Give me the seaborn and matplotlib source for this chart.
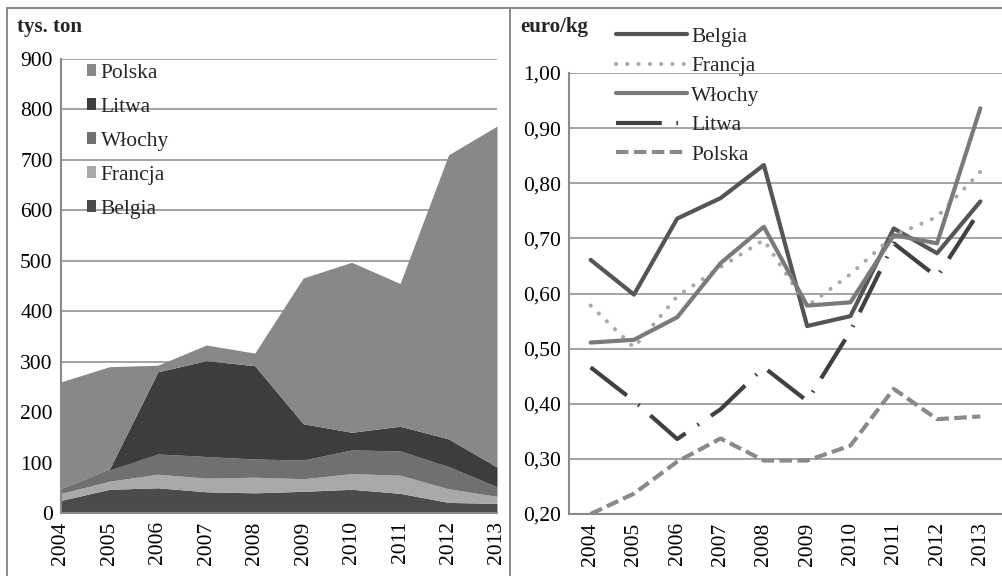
import numpy as np
import pandas as pd
import matplotlib
matplotlib.use("Agg")
import matplotlib.pyplot as plt
import seaborn as sns
from matplotlib.patches import Patch
from matplotlib.lines import Line2D

years = [2004, 2005, 2006, 2007, 2008, 2009, 2010, 2011, 2012, 2013]

# left: quantities (tys. ton)
q_belgia = [25, 47, 50, 42, 40, 43, 47, 39, 21, 19]
q_francja = [14, 16, 27, 27, 31, 25, 31, 36, 27, 14]
q_wlochy = [10, 22, 40, 43, 36, 37, 47, 48, 44, 19]
q_litwa = [0, 2, 163, 190, 185, 72, 35, 49, 55, 39]
q_polska = [211, 203, 13, 31, 25, 289, 337, 283, 563, 676]

# right: prices (euro/kg)
p_belgia = [0.661, 0.598, 0.736, 0.773, 0.833, 0.541, 0.559, 0.718, 0.673, 0.767]
p_francja = [0.578, 0.502, 0.595, 0.648, 0.697, 0.577, 0.635, 0.705, 0.739, 0.821]
p_wlochy = [0.511, 0.516, 0.557, 0.655, 0.721, 0.578, 0.584, 0.706, 0.691, 0.936]
p_litwa = [0.466, 0.405, 0.336, 0.390, 0.466, 0.405, 0.532, 0.691, 0.630, 0.752]
p_polska = [0.200, 0.237, 0.295, 0.337, 0.297, 0.297, 0.324, 0.427, 0.372, 0.377]

left_yticks = [0, 100, 200, 300, 400, 500, 600, 700, 800, 900]
right_yticks = [0.20, 0.30, 0.40, 0.50, 0.60, 0.70, 0.80, 0.90, 1.00]

sns.set_theme(style="white")
plt.rcParams['font.family'] = ['Liberation Serif', 'DejaVu Serif']

W, H = 1002, 576
fig = plt.figure(figsize=(W / 100, H / 100), dpi=100)

def fx(px):
    return px / W

def fy(py):
    return 1 - py / H

grid_c = "#8a8a8a"
fs = 15.5

# ---------- left panel ----------
axL = fig.add_axes([fx(61), fy(513), fx(497) - fx(61), fy(59) - fy(513)])
col_area = {"Belgia": "#4b4b4b", "Francja": "#a9a9a9", "Włochy": "#707070",
            "Litwa": "#3d3d3d", "Polska": "#888888"}
names = ["Belgia", "Francja", "Włochy", "Litwa", "Polska"]
series = [q_belgia, q_francja, q_wlochy, q_litwa, q_polska]
axL.stackplot(np.arange(len(years)), *series, colors=[col_area[n] for n in names],
              linewidth=0, zorder=2)
axL.set_xlim(0, len(years) - 1)
axL.set_ylim(0, 900)
axL.set_yticks(left_yticks)
axL.set_yticklabels([str(v) for v in left_yticks], fontsize=fs)
axL.set_xticks(np.arange(len(years)))
axL.set_xticklabels([str(y) for y in years], rotation=90, fontsize=fs)
axL.grid(axis="y", color=grid_c, linewidth=1.1, zorder=0)
axL.set_axisbelow(True)
for s in ["top", "right"]:
    axL.spines[s].set_visible(False)
for s in ["left", "bottom"]:
    axL.spines[s].set_color(grid_c)
    axL.spines[s].set_linewidth(1.5)
axL.tick_params(axis="both", length=0, pad=6, colors="black")
handlesL = [Patch(facecolor=col_area[n], edgecolor="none", label=n) for n in names[::-1]]
legL = fig.legend(handles=handlesL, loc="upper left", bbox_to_anchor=(fx(78), fy(55)),
                  frameon=False, fontsize=fs, handlelength=0.45, handleheight=0.45,
                  handletextpad=0.2, labelspacing=0.70, borderaxespad=0)
fig.text(fx(17), fy(27), "tys. ton", fontsize=15, fontweight="bold", va="center", ha="left")

# ---------- right panel ----------
axR = fig.add_axes([fx(569), fy(514), fx(1002) - fx(569), fy(73) - fy(514)])
xpos = np.arange(len(years))
styles = [
    ("Belgia", p_belgia, "#555555", dict()),
    ("Francja", p_francja, "#a8a8a8", dict(dashes=(0.01, 2.7), dash_capstyle="round")),
    ("Włochy", p_wlochy, "#7a7a7a", dict()),
    ("Litwa", p_litwa, "#404040", dict(dashes=(11, 3.5, 0.4, 3.5))),
    ("Polska", p_polska, "#8a8a8a", dict(dashes=(3, 1.3))),
]
handlesR = []
for name, vals, c, kw in styles:
    df = pd.DataFrame({"x": xpos, "y": vals})
    sns.lineplot(data=df, x="x", y="y", ax=axR, color=c, linewidth=3,
                 solid_capstyle="round", legend=False, **kw)
    handlesR.append(Line2D([0], [0], color=c, linewidth=3, solid_capstyle="round", **kw,
                           label=name))
axR.set_xlim(-0.5, len(years) - 0.5)
axR.set_ylim(0.2, 1.0)
axR.set_yticks(right_yticks)
axR.set_yticklabels([f"{v:.2f}".replace(".", ",") for v in right_yticks], fontsize=fs)
axR.set_xticks(xpos)
axR.set_xticklabels([str(y) for y in years], rotation=90, fontsize=fs)
axR.set_xlabel("")
axR.set_ylabel("")
axR.grid(axis="y", color=grid_c, linewidth=1.1, zorder=0)
axR.set_axisbelow(True)
for s in ["top", "right"]:
    axR.spines[s].set_visible(False)
for s in ["left", "bottom"]:
    axR.spines[s].set_color(grid_c)
    axR.spines[s].set_linewidth(1.5)
axR.tick_params(axis="both", length=0, pad=6, colors="black")
legR = fig.legend(handles=handlesR, loc="upper left", bbox_to_anchor=(fx(607), fy(18)),
                  frameon=False, fontsize=fs, handlelength=3.3, handletextpad=0.2,
                  labelspacing=0.44, borderaxespad=0)
fig.text(fx(520), fy(27), "euro/kg", fontsize=15, fontweight="bold", va="center", ha="left")

# ---------- frame lines ----------
frame_c = "#808080"
fig.add_artist(Line2D([fx(7), fx(1002)], [fy(7.5), fy(7.5)], color=frame_c, linewidth=1.3))
fig.add_artist(Line2D([fx(7), fx(7)], [fy(7.5), fy(576)], color=frame_c, linewidth=1.3))
fig.add_artist(Line2D([fx(510), fx(510)], [fy(7.5), fy(576)], color=frame_c, linewidth=1.3))

fig.savefig("out.png", dpi=100)
